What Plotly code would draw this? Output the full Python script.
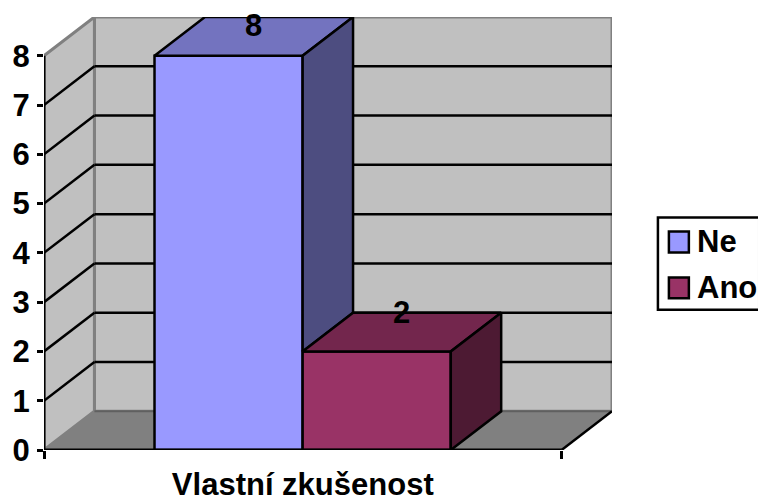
import plotly.graph_objects as go

# ---- data ----
series_names = ["Ne", "Ano"]
series_values = [8, 2]
category_label = "Vlastní zkušenost"
y_ticks = [0, 1, 2, 3, 4, 5, 6, 7, 8]

# ---- styles ----
front_colors = ["#9999FF", "#993366"]
top_colors = ["#7373BF", "#73264D"]
side_colors = ["#4D4D80", "#4D1A33"]
label_yshift = [-8, 0]
FONT = "Liberation Sans"
W, H = 758, 495
PL, PR, PT, PB = 43.5, 612.5, 16.5, 450.5  # plot rectangle in page pixels
unit_x = 518.5                             # pixels of the category axis
unit_y = 49.4                              # pixels per value unit
DX = (PR - PL - unit_x) / unit_x           # depth offset in x data units
DY = (PB - PT) / unit_y - 8                # depth offset in y data units
bar_start = 0.2135
bar_width = 0.2862


def poly_x(x0, x1):
    return [x0, x1, x1 + DX, x0 + DX, x0]


fig = go.Figure()

# front faces
for i, (name, v) in enumerate(zip(series_names, series_values)):
    fig.add_trace(go.Bar(
        x=[bar_start + bar_width * (i + 0.5)], y=[v], width=bar_width, name=name,
        marker=dict(color=front_colors[i], line=dict(color="black", width=2.5)),
        showlegend=False, hoverinfo="name+y"))

# top and side faces (a side stops where the next bar's top hides it)
for i, v in enumerate(series_values):
    x0 = bar_start + bar_width * i
    x1 = x0 + bar_width
    hidden = series_values[i + 1] if i + 1 < len(series_values) else 0
    fig.add_trace(go.Scatter(
        x=poly_x(x0, x1), y=[v, v, v + DY, v + DY, v], mode="lines", fill="toself",
        fillcolor=top_colors[i], line=dict(color="black", width=2.5),
        showlegend=False, hoverinfo="skip", cliponaxis=False))
    fig.add_trace(go.Scatter(
        x=[x1, x1 + DX, x1 + DX, x1, x1], y=[hidden, hidden + DY, v + DY, v, hidden], mode="lines", fill="toself",
        fillcolor=side_colors[i], line=dict(color="black", width=2.5),
        showlegend=False, hoverinfo="skip", cliponaxis=False))

shapes = []
# walls and floor
shapes.append(dict(type="path", layer="below", line=dict(color="#808080", width=3), fillcolor="#C0C0C0",
                   path=f"M {DX} {DY} L {1 + DX} {DY} L {1 + DX} {8 + DY} L {DX} {8 + DY} Z"))
shapes.append(dict(type="path", layer="below", line=dict(color="#808080", width=3), fillcolor="#C0C0C0",
                   path=f"M 0 0 L {DX} {DY} L {DX} {8 + DY} L 0 8 Z"))
shapes.append(dict(type="path", layer="below", line=dict(width=0), fillcolor="#808080",
                   path=f"M 0 0 L 1 0 L {1 + DX} {DY} L {DX} {DY} Z"))
# floor edges
shapes.append(dict(type="line", layer="below", x0=DX, x1=1 + DX, y0=DY, y1=DY,
                   line=dict(color="#606060", width=2)))
shapes.append(dict(type="line", layer="below", x0=1, x1=1 + DX, y0=0, y1=DY,
                   line=dict(color="black", width=2.5)))
# gridlines
for t in y_ticks[1:-1]:
    shapes.append(dict(type="line", layer="below", x0=0, x1=DX, y0=t, y1=t + DY,
                       line=dict(color="black", width=2.5)))
    shapes.append(dict(type="line", layer="below", x0=DX, x1=1 + DX, y0=t + DY, y1=t + DY,
                       line=dict(color="black", width=2.5)))
# axis lines
shapes.append(dict(type="line", layer="above", x0=0, x1=1, y0=0, y1=0, line=dict(color="black", width=3)))
shapes.append(dict(type="line", layer="above", x0=0, x1=0, y0=0, y1=8, line=dict(color="black", width=3)))

annotations = []
for i, v in enumerate(series_values):
    annotations.append(dict(
        x=bar_start + bar_width * (i + 0.5) + DX / 2, y=v + DY, text=str(v), showarrow=False,
        yshift=label_yshift[i], xanchor="center", yanchor="middle",
        font=dict(family=FONT, size=31, color="black", weight=700)))

# legend box, clipped by the page's right edge as in the source
shapes.append(dict(type="rect", xref="paper", yref="paper", layer="above",
                   x0=(658.5 - PL) / (PR - PL), x1=(760 - PL) / (PR - PL),
                   y0=(PB - 310) / (PB - PT), y1=(PB - 217.5) / (PB - PT),
                   fillcolor="white", line=dict(color="black", width=2.5)))
legend_rows = [242, 288]
for i, name in enumerate(series_names):
    yc = legend_rows[i]
    shapes.append(dict(type="rect", xref="paper", yref="paper", layer="above",
                       x0=(669.5 - PL) / (PR - PL), x1=(689.5 - PL) / (PR - PL),
                       y0=(PB - yc - 10.5) / (PB - PT), y1=(PB - yc + 10.5) / (PB - PT),
                       fillcolor=front_colors[i], line=dict(color="black", width=2.5)))
    annotations.append(dict(
        xref="paper", yref="paper", x=(698 - PL) / (PR - PL), y=(PB - yc) / (PB - PT),
        text=name, showarrow=False, xanchor="left", yanchor="middle", align="left",
        borderpad=0, borderwidth=0,
        font=dict(family=FONT, size=31, color="black", weight=700)))

fig.update_layout(
    width=W, height=H, autosize=False,
    margin=dict(l=PL, r=W - PR, t=PT, b=H - PB, pad=0),
    paper_bgcolor="white", plot_bgcolor="rgba(0,0,0,0)",
    barmode="overlay", showlegend=False,
    shapes=shapes, annotations=annotations,
    xaxis=dict(
        range=[0, 1 + DX], showgrid=False, zeroline=False, showline=False, automargin=False,
        tickmode="array", tickvals=[0.5], ticktext=[category_label], ticklen=0, ticks="outside",
        ticklabelstandoff=7,
        tickfont=dict(family=FONT, size=31, color="black", weight=700),
        minor=dict(tickmode="array", tickvals=[0, 1], ticks="outside", ticklen=8, tickwidth=2.5, tickcolor="black"),
    ),
    yaxis=dict(
        range=[0, 8 + DY], showgrid=False, zeroline=False, showline=False, automargin=False,
        tickmode="array", tickvals=y_ticks, ticks="outside", ticklen=6, tickwidth=2.5, tickcolor="black",
        ticklabelstandoff=1,
        tickfont=dict(family=FONT, size=31, color="black", weight=700),
    ),
)

fig.write_html("out.html", config=dict(displayModeBar=False),
               post_script="document.body.style.margin='0';document.body.style.overflow='hidden';")
